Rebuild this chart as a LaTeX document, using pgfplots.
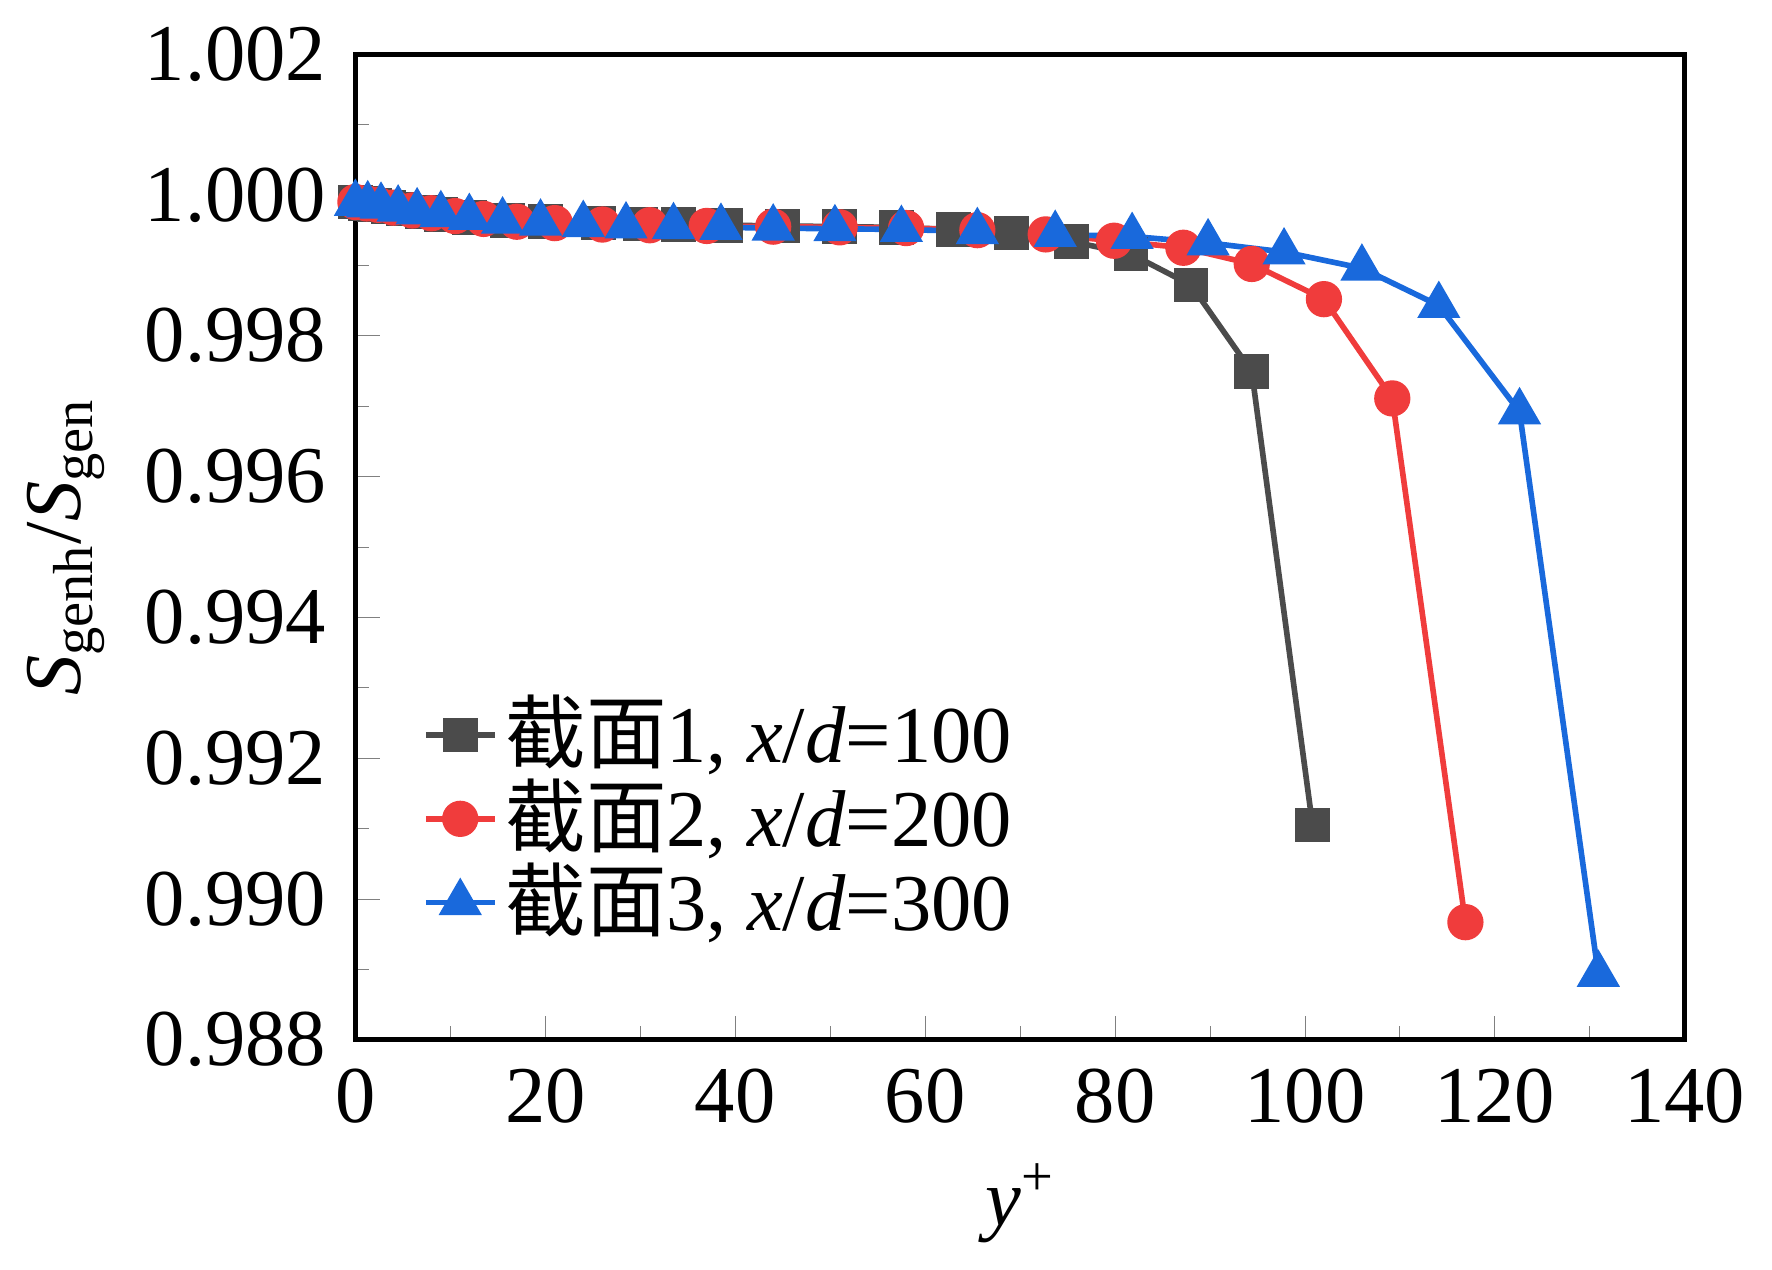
\documentclass[border=0pt]{standalone}
\usepackage{pgfplots}
\pgfplotsset{compat=1.18}
\usepackage{fontspec}
\setmainfont{Liberation Serif}
\newfontfamily\cjk{Noto Sans CJK SC}
\definecolor{cblue}{RGB}{25,105,220}
\definecolor{cred}{RGB}{240,60,60}
\definecolor{cgray}{RGB}{75,75,75}
\begin{document}
\fontsize{20}{24}\selectfont
\begin{tikzpicture}
\begin{axis}[
  width=11.6cm, height=8.6cm, scale only axis,
  xmin=0, xmax=140, ymin=0.988, ymax=1.002,
  xtick={0,20,...,140}, ytick={0.988,0.990,...,1.002},
  minor x tick num=1, minor y tick num=1,
  tick pos=left, tick align=inside, line width=1.2pt,
  major tick length=6pt, minor tick length=3.5pt,
  /pgf/number format/assume math mode=true,
  yticklabel style={/pgf/number format/.cd, fixed, fixed zerofill, precision=3},
  scaled y ticks=false,
  xlabel={\textit{y}\textsuperscript{+}}, ylabel={\textit{S}\textsubscript{genh}/\textit{S}\textsubscript{gen}},
  xlabel style={yshift=4pt}, ylabel style={yshift=-4pt},
  legend style={draw=none, fill=none, at={(0.04,0.08)}, anchor=south west, font=\fontsize{20}{24}\selectfont, row sep=-3pt},
  legend image post style={line width=1.4pt},
  legend cell align=left,
  every axis plot/.append style={line width=1.4pt},
]
\addplot[color=cgray, mark=square*, mark size=3.6pt] coordinates {
(0,0.99990)(1,0.99988)(2,0.99986)(3.5,0.99983)(5,0.99980)(7,0.99976)(9,0.99972)(12,0.99968)(16,0.99964)(20,0.99962)(25.6,0.99960)(30,0.99959)(34,0.99958)(39,0.99957)(45,0.99956)(51,0.99955)(57,0.99954)(63,0.99951)(69.1,0.99946)(75.4,0.99934)(81.7,0.99916)(88.0,0.99872)(94.4,0.99749)(100.8,0.99105)};
\addplot[color=cred, mark=*, mark size=3.8pt] coordinates {
(0,0.99990)(1.2,0.99988)(2.4,0.99986)(4,0.99982)(6,0.99978)(8,0.99974)(10.5,0.99970)(13.5,0.99966)(17,0.99962)(21,0.99960)(26,0.99958)(31,0.99957)(37,0.99956)(44,0.99955)(51,0.99954)(58,0.99953)(65.5,0.99950)(72.7,0.99944)(79.9,0.99935)(87.2,0.99925)(94.4,0.99902)(102.0,0.99852)(109.2,0.99711)(116.9,0.98967)};
\addplot[color=cblue, mark=triangle*, mark size=4.8pt] coordinates {
(0,0.99988)(1.3,0.99986)(2.7,0.99984)(4.5,0.99980)(6.5,0.99976)(9,0.99972)(12,0.99968)(15.5,0.99963)(19.5,0.99960)(24,0.99958)(28.5,0.99956)(33.5,0.99955)(38.5,0.99954)(44,0.99953)(50.5,0.99952)(57.5,0.99951)(65.5,0.99948)(73.7,0.99944)(81.8,0.99941)(89.8,0.99932)(97.8,0.99919)(106.0,0.99896)(114.1,0.99843)(122.6,0.99692)(130.9,0.98893)};
\legend{{{\cjk 截面}1, \textit{x}/\textit{d}=100},{{\cjk 截面}2, \textit{x}/\textit{d}=200},{{\cjk 截面}3, \textit{x}/\textit{d}=300}}
\end{axis}
\end{tikzpicture}
\end{document}
